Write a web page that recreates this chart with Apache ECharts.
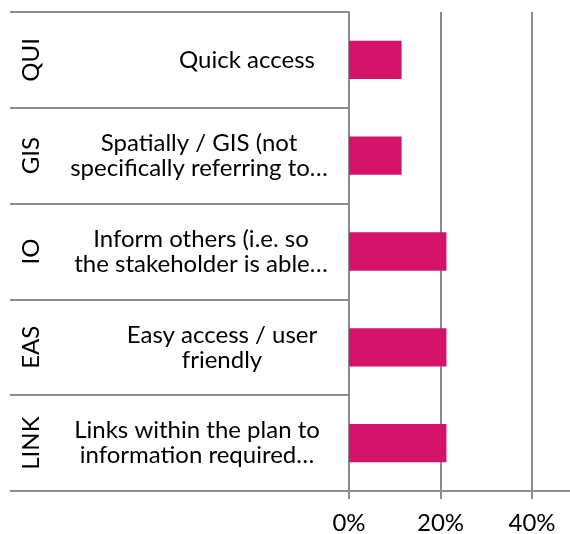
<!DOCTYPE html>
<html>
<head>
<meta charset="utf-8">
<script src="https://cdn.jsdelivr.net/npm/echarts@6/dist/echarts.min.js"></script>
<style>
  html, body { margin: 0; padding: 0; background: #fff; }
  #chart { width: 570px; height: 534px; }
</style>
</head>
<body>
<div id="chart"></div>
<script>
// ---- data ----
const codes = ['QUI', 'GIS', 'IO', 'EAS', 'LINK'];
const descriptions = [
  'Quick access',
  'Spatially / GIS (not\nspecifically referring to…',
  'Inform others (i.e. so\nthe stakeholder is able…',
  'Easy access / user\nfriendly',
  'Links within the plan to\ninformation required…'
];
const shares = [0.115, 0.115, 0.213, 0.213, 0.213];
const xTickValues = [0, 0.2, 0.4];

// ---- styling ----
const FONT = 'Lato, "Open Sans", sans-serif';
const FS = 24;
const LINE = '#8c8c8c';
const BAR = '#d5136a';
// label box widths per category line (layout only)
const boxWidths = [[184], [280, 256], [276, 258], [224, 234], [284, 266]];

const rich = {};
boxWidths.forEach((ws, i) => {
  ws.forEach((w, j) => {
    rich['r' + i + '_' + j] = { width: w, align: 'center', fontSize: FS, lineHeight: 25, fontFamily: FONT, color: '#000' };
  });
});

const chart = echarts.init(document.getElementById('chart'), null, { renderer: 'canvas' });
chart.setOption({
  animation: false,
  backgroundColor: '#fff',
  grid: { left: 349, top: 12, width: 228.75, height: 479, containLabel: false, outerBoundsMode: 'none' },
  xAxis: {
    type: 'value', min: 0, max: 0.5, interval: 0.2,
    axisLine: { show: true, lineStyle: { color: LINE, width: 2 } },
    axisTick: { show: true, length: 8, lineStyle: { color: LINE, width: 2 } },
    splitLine: { show: true, lineStyle: { color: LINE, width: 2 } },
    axisLabel: {
      showMaxLabel: false, margin: 20, color: '#000', fontSize: FS, fontFamily: FONT,
      formatter: v => xTickValues.some(t => Math.abs(t - v) < 1e-9) ? Math.round(v * 100) + '%' : ''
    }
  },
  yAxis: [
    {
      type: 'category', data: descriptions, inverse: true, position: 'left',
      axisLine: { show: true, lineStyle: { color: LINE, width: 2 } },
      axisTick: { show: true, length: 339, lineStyle: { color: LINE, width: 2 } },
      splitLine: { show: false },
      axisLabel: {
        interval: 0, margin: 10, align: 'right',
        formatter: (v, i) => v.split('\n').map((l, j) => '{r' + i + '_' + j + '|' + l + '}').join('\n'),
        rich: rich
      }
    },
    {
      type: 'category', data: codes, inverse: true, position: 'left',
      axisLine: { show: false }, axisTick: { show: false }, splitLine: { show: false },
      axisLabel: { interval: 0, rotate: 90, margin: 306, color: '#000', fontSize: FS, fontFamily: FONT }
    }
  ],
  series: [{
    type: 'bar', data: shares, barWidth: '40%', yAxisIndex: 0,
    itemStyle: { color: BAR }
  }]
});
</script>
</body>
</html>
